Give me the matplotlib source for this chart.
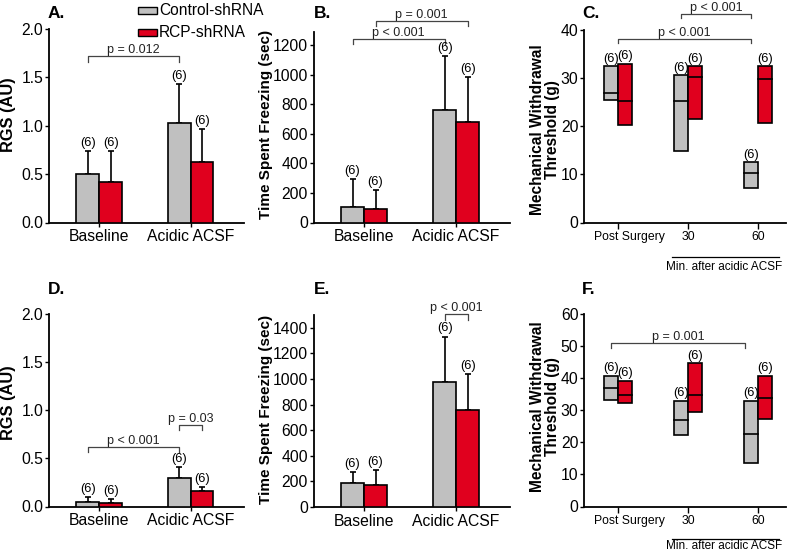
import matplotlib
matplotlib.use("Agg")
import matplotlib.pyplot as plt
from matplotlib.patches import Rectangle
from matplotlib.lines import Line2D
import matplotlib.transforms as mtransforms

plt.rcParams['font.family'] = ['Liberation Sans', 'DejaVu Sans']

# ---------------- data ----------------
groups_bar = ["Baseline", "Acidic ACSF"]
groups_box = ["Post Surgery", "30", "60"]
series = ["Control-shRNA", "RCP-shRNA"]
n_label = "(6)"

# Panel A: RGS (AU)
A_ctrl = [0.50, 1.03]
A_ctrl_sd = [0.24, 0.40]
A_rcp = [0.42, 0.63]
A_rcp_sd = [0.32, 0.34]

# Panel B: time spent freezing (sec)
B_ctrl = [105, 762]
B_ctrl_sd = [188, 366]
B_rcp = [92, 680]
B_rcp_sd = [130, 307]

# Panel C: mechanical withdrawal threshold (g) - floating boxes (low, high, median)
C_ctrl_low = [25.5, 14.8, 7.1]
C_ctrl_high = [32.5, 30.6, 12.5]
C_ctrl_med = [27.0, 25.2, 10.3]
C_rcp_low = [20.2, 21.6, 20.6]
C_rcp_high = [33.0, 32.5, 32.5]
C_rcp_med = [25.2, 30.3, 29.9]

# Panel D: RGS (AU)
D_ctrl = [0.045, 0.30]
D_ctrl_sd = [0.05, 0.11]
D_rcp = [0.040, 0.16]
D_rcp_sd = [0.036, 0.04]

# Panel E: time spent freezing (sec)
E_ctrl = [187, 977]
E_ctrl_sd = [86, 355]
E_rcp = [174, 757]
E_rcp_sd = [115, 280]

# Panel F: mechanical withdrawal threshold (g)
F_ctrl_low = [33.2, 22.3, 13.4]
F_ctrl_high = [40.7, 32.9, 32.9]
F_ctrl_med = [36.9, 26.9, 22.5]
F_rcp_low = [32.2, 29.5, 27.1]
F_rcp_high = [39.1, 44.6, 40.7]
F_rcp_med = [34.7, 34.6, 33.6]

# ---------------- style ----------------
GRAY = '#C0C0C0'
RED = '#E0001E'
BRK = '#444444'
W, H = 787, 555

fig = plt.figure(figsize=(W / 100, H / 100), dpi=100)


def px_axes(l, r, top, bottom):
    return fig.add_axes([l / W, (H - bottom) / H, (r - l) / W, (bottom - top) / H])


def style_axes(ax):
    for s in ['top', 'right']:
        ax.spines[s].set_visible(False)
    for s in ['left', 'bottom']:
        ax.spines[s].set_linewidth(1.3)
        ax.spines[s].set_color('black')
    ax.tick_params(axis='y', direction='out', length=3, width=1, labelsize=11.3, pad=1)
    ax.tick_params(axis='x', direction='out', length=3, width=1, labelsize=11.3, pad=2)


def bracket(ax, x1, x2, y, h, text):
    ax.plot([x1, x1, x2, x2], [y - h, y, y, y - h], color=BRK, lw=0.9, clip_on=False)
    ax.text((x1 + x2) / 2, y, text, ha='center', va='bottom', fontsize=9, color='#222222')


def bar_panel(ax, ctrl, ctrl_sd, rcp, rcp_sd, ylim, yticks, yfmt):
    w = 0.25
    xs = list(range(len(groups_bar)))
    xc = [x - w / 2 for x in xs]
    xr = [x + w / 2 for x in xs]
    ax.bar(xc, ctrl, width=w, color=GRAY, edgecolor='black', linewidth=1.2, zorder=3)
    ax.bar(xr, rcp, width=w, color=RED, edgecolor='black', linewidth=1.2, zorder=3)
    ax.errorbar(xc, ctrl, yerr=[[0] * len(ctrl), ctrl_sd], fmt='none', ecolor='black',
                elinewidth=1.2, capsize=2, capthick=1.2, zorder=2)
    ax.errorbar(xr, rcp, yerr=[[0] * len(rcp), rcp_sd], fmt='none', ecolor='black',
                elinewidth=1.2, capsize=2, capthick=1.2, zorder=2)
    for x, v, s in list(zip(xc, ctrl, ctrl_sd)) + list(zip(xr, rcp, rcp_sd)):
        ax.annotate(n_label, (x, v + s), xytext=(0, 1.5), textcoords='offset points',
                    ha='center', va='bottom', fontsize=9.3)
    ax.set_xlim(-0.55, 1.58)
    ax.set_ylim(*ylim)
    ax.set_yticks(yticks)
    ax.set_yticklabels([yfmt.format(t) for t in yticks])
    ax.set_xticks(xs)
    ax.set_xticklabels(groups_bar)
    style_axes(ax)
    return xc, xr


def box_panel(ax, cl, ch, cm, rl, rh, rm, ylim, yticks, line_y, text_y):
    w = 0.2
    xs = list(range(len(groups_box)))
    xc = [x - w / 2 for x in xs]
    xr = [x + w / 2 for x in xs]
    ax.bar(xc, [h - l for l, h in zip(cl, ch)], bottom=cl, width=w, color=GRAY,
           edgecolor='black', linewidth=1.2, zorder=3)
    ax.bar(xr, [h - l for l, h in zip(rl, rh)], bottom=rl, width=w, color=RED,
           edgecolor='black', linewidth=1.2, zorder=3)
    for x, m in list(zip(xc, cm)) + list(zip(xr, rm)):
        ax.plot([x - w / 2, x + w / 2], [m, m], color='black', lw=1.2, zorder=4)
    for x, h in list(zip(xc, ch)) + list(zip(xr, rh)):
        ax.annotate(n_label, (x, h), xytext=(0, 1), textcoords='offset points',
                    ha='center', va='bottom', fontsize=9.3)
    ax.set_xlim(-0.486, 2.4)
    ax.set_ylim(*ylim)
    ax.set_yticks(yticks)
    ax.set_xticks(xs)
    ax.set_xticklabels([])
    style_axes(ax)
    ax.tick_params(axis='x', length=4)
    trans = mtransforms.blended_transform_factory(ax.transData, ax.transAxes)
    label_x = [0.17, 1.0, 2.0]
    for x, lab in zip(label_x, groups_box):
        ax.text(x, -0.075, lab, transform=trans, ha='center', va='center', fontsize=8.8)
    ax.add_line(Line2D([0.77, 2.3], [line_y, line_y], transform=trans, color='black',
                       lw=0.9, clip_on=False))
    ax.text(1.51, text_y, "Min. after acidic ACSF", transform=trans, ha='center',
            va='center', fontsize=8.5)
    return xc, xr


# ---------------- panel A ----------------
axA = px_axes(49, 243.5, 29, 222.5)
xc, xr = bar_panel(axA, A_ctrl, A_ctrl_sd, A_rcp, A_rcp_sd, (0, 2.0),
                   [0.0, 0.5, 1.0, 1.5, 2.0], "{:.1f}")
bracket(axA, xc[0], xc[1], 1.72, 0.06, "p = 0.012")

# ---------------- panel B ----------------
axB = px_axes(313.5, 509.5, 31.9, 222.5)
xc, xr = bar_panel(axB, B_ctrl, B_ctrl_sd, B_rcp, B_rcp_sd, (0, 1290),
                   [0, 200, 400, 600, 800, 1000, 1200], "{:d}")
bracket(axB, xc[0], xc[1], 1244, 38, "p < 0.001")
bracket(axB, xr[0], xr[1], 1364, 36, "p = 0.001")

# ---------------- panel C ----------------
axC = px_axes(584, 786, 30, 222.5)
xc, xr = box_panel(axC, C_ctrl_low, C_ctrl_high, C_ctrl_med, C_rcp_low, C_rcp_high, C_rcp_med,
                   (0, 40), [0, 10, 20, 30, 40], -0.178, -0.232)
bracket(axC, 0.0, xc[2], 38.2, 0.9, "p < 0.001")
bracket(axC, xc[1], xc[2], 43.3, 0.9, "p < 0.001")

# ---------------- panel D ----------------
axD = px_axes(49, 243.5, 314, 506.5)
xc, xr = bar_panel(axD, D_ctrl, D_ctrl_sd, D_rcp, D_rcp_sd, (0, 2.0),
                   [0.0, 0.5, 1.0, 1.5, 2.0], "{:.1f}")
bracket(axD, xc[0], xc[1], 0.62, 0.05, "p < 0.001")
bracket(axD, xc[1], xr[1], 0.845, 0.045, "p = 0.03")

# ---------------- panel E ----------------
axE = px_axes(313.5, 509.5, 315, 507)
xc, xr = bar_panel(axE, E_ctrl, E_ctrl_sd, E_rcp, E_rcp_sd, (0, 1500),
                   [0, 200, 400, 600, 800, 1000, 1200, 1400], "{:d}")
bracket(axE, xc[1], xr[1], 1508, 45, "p < 0.001")

# ---------------- panel F ----------------
axF = px_axes(584, 786, 313.5, 506.5)
xc, xr = box_panel(axF, F_ctrl_low, F_ctrl_high, F_ctrl_med, F_rcp_low, F_rcp_high, F_rcp_med,
                   (0, 60), [0, 10, 20, 30, 40, 50, 60], -0.168, -0.205)
bracket(axF, xc[0], 1.82, 50.8, 1.5, "p = 0.001")

# ---------------- labels ----------------
def ftext(x, y, s, **kw):
    fig.text(x / W, 1 - y / H, s, **kw)


for (x, y, s) in [(48, 13, "A."), (314, 13, "B."), (582, 13, "C."),
                  (48, 289, "D."), (314, 289, "E."), (582, 289, "F.")]:
    ftext(x, y, s, fontsize=12.5, fontweight='bold', ha='left', va='center')

ylab_kw = dict(rotation=90, ha='center', va='center', fontweight='bold')
ftext(9, 115, "RGS (AU)", fontsize=11.8, **ylab_kw)
ftext(9, 403, "RGS (AU)", fontsize=11.8, **ylab_kw)
ftext(266, 124, "Time Spent Freezing (sec)", fontsize=11, **ylab_kw)
ftext(266, 409, "Time Spent Freezing (sec)", fontsize=11, **ylab_kw)
ftext(545, 130, "Mechanical Withdrawal\nThreshold (g)", fontsize=11.2, linespacing=1.0,
      **ylab_kw)
ftext(545, 407, "Mechanical Withdrawal\nThreshold (g)", fontsize=11.2, linespacing=1.0,
      **ylab_kw)

# legend (manual, figure pixel coords)
for (y0, col, lab) in [(6.5, GRAY, series[0]), (28.5, RED, series[1])]:
    fig.patches.append(Rectangle((138 / W, 1 - (y0 + 7.5) / H), 19 / W, 7.5 / H,
                                 transform=fig.transFigure, facecolor=col,
                                 edgecolor='black', linewidth=1.0))
    ftext(159, y0 + 4, lab, fontsize=11.2, ha='left', va='center')

fig.savefig("out.png", dpi=100)
